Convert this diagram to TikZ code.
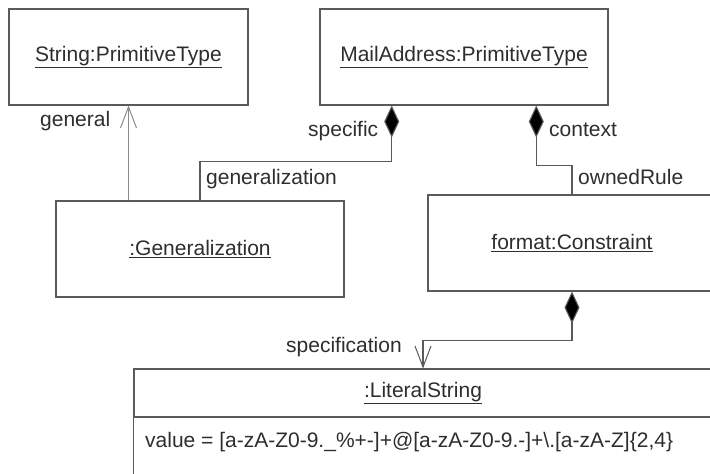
\documentclass[tikz,border=0pt]{standalone}
\usepackage{fontspec}
\setmainfont{Liberation Sans}
\usetikzlibrary{arrows.meta,calc}
\definecolor{linegray}{HTML}{5A5A5A}
\definecolor{lightline}{HTML}{8A8A8A}
\definecolor{txtgray}{HTML}{2E2E2E}
\begin{document}
\begin{tikzpicture}[x=1pt,y=-1pt,
  every node/.style={font=\fontsize{21}{25}\selectfont, text=txtgray},
  objbox/.style={draw=linegray, line width=1.1pt, minimum width=288pt, minimum height=96pt, inner sep=0pt},
  lbl/.style={inner sep=0pt, anchor=base west},
  conn/.style={draw=linegray, line width=1.1pt},
  comp/.style={conn, {Diamond[length=32pt,width=15pt,fill=black]}-},
  nav/.style={draw=lightline, line width=1.1pt, -{Straight Barb[length=21pt,width=16pt,line width=1pt]}}
]
\useasboundingbox (0,0) rectangle (710,474);
\fill[white] (0,0) rectangle (710,474);

\node[objbox, minimum width=239pt] (str) at (128.5,57) {\underline{String:PrimitiveType}};
\node[objbox] (mail) at (464,57) {\underline{MailAddress:PrimitiveType}};
\node[objbox] (gen) at (200,249) {\underline{:Generalization}};
\node[objbox] (fmt) at (572,243) {\underline{format:Constraint}};
\node[objbox, minimum width=578pt, minimum height=48pt] (lit) at (423,393) {\underline{:LiteralString}};
\draw[linegray, line width=1.1pt] (lit.south west) rectangle ($(lit.south east)+(0,90)$);
\node[lbl] (val) at (145,447) {value = [a-zA-Z0-9.\_\%+-]+@[a-zA-Z0-9.-]+\textbackslash.[a-zA-Z]\{2,4\}};

% generalization -> general
\draw[nav] (gen.north -| str.south) -- (str.south);
% specific composition
\draw[comp] ($(mail.south west)!0.25!(mail.south east)$) |- ($(gen.north)+(0,-39)$) -- (gen.north);
% context composition
\draw[comp] ($(mail.south west)!0.75!(mail.south east)$) |- ($(fmt.north)+(0,-29)$) -- (fmt.north);
% specification
\draw[conn, {Diamond[length=32pt,width=15pt,fill=black]}-{Straight Barb[length=21pt,width=16pt,line width=1pt]}] (fmt.south) -- ($(fmt.south)+(0,49)$) -| (lit.north);

\node[lbl] (lgeneral) at (40,126) {general};
\node[lbl] (lspecific) at (308,136) {specific};
\node[lbl] (lcontext) at (549,136) {context};
\node[lbl] (lgeneralization) at (206,184) {generalization};
\node[lbl] (lowned) at (578,184) {ownedRule};
\node[lbl] (lspec) at (286,352) {specification};
\end{tikzpicture}
\end{document}
